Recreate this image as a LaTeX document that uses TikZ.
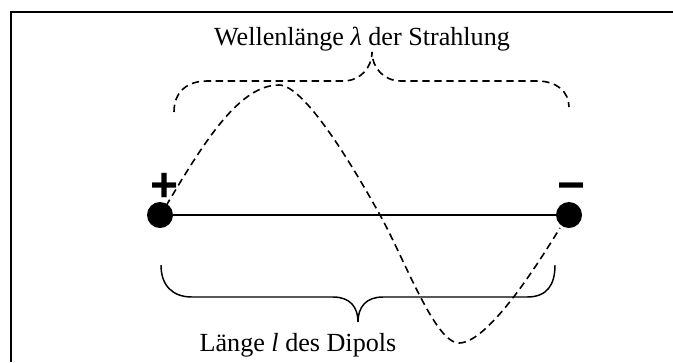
\documentclass[tikz,border=0pt]{standalone}
\usepackage{fontspec}
\setmainfont{Liberation Serif}
\newfontfamily\signfont{Liberation Sans}
\usetikzlibrary{positioning}

\begin{document}
\begin{tikzpicture}[x=0.75pt,y=-0.75pt,
  pole/.style={circle,fill=black,inner sep=0pt,minimum size=19.5pt},
  sign/.style={inner sep=0pt,anchor=base,font=\signfont\bfseries\fontsize{36}{36}\selectfont},
  label/.style={inner sep=0pt,anchor=base,font=\fontsize{19.6}{22}\selectfont},
  wave/.style={dash pattern=on 5.5pt off 3.5pt,line width=1.2pt},
  brace/.style={line width=1.1pt}
]
\useasboundingbox (0,0) rectangle (673,362);
% frame (open at right and bottom)
\draw[line width=1.6pt] (673,12) -- (11,12) -- (11,362);
% radiation wave
\draw[wave] (166,206) .. controls (205,140) and (240,85) .. (279,85)
  .. controls (305,85) and (355,170) .. (380,215)
  .. controls (405,260) and (435,343) .. (459,343)
  .. controls (490,343) and (545,252) .. (560,228);
% braces
\draw[wave] (174,112) .. controls (174,92) and (187,81) .. (207,81) -- (343,81)
  .. controls (360,81) and (372,68) .. (372,52)
  .. controls (372,68) and (384,81) .. (401,81) -- (537,81)
  .. controls (557,81) and (569,92) .. (569,107);
\draw[brace] (161,265) .. controls (161,285) and (172,297) .. (192,297) -- (333,297)
  .. controls (350,297) and (358,307) .. (358,322)
  .. controls (358,307) and (366,297) .. (383,297) -- (527,297)
  .. controls (547,297) and (555,285) .. (555,265);
% dipole
\node[pole] (pos) at (160,215) {};
\node[pole] (neg) at (569,215) {};
\draw[line width=1.1pt] (pos) -- (neg);
\node[sign] (plussign) at (165,201) {+};
\node[sign] (minussign) at (572,201) {−};
% labels
\node[label] (wavelabel) at (362,45) {Wellenlänge \textit{λ} der Strahlung};
\node[label] (lengthlabel) at (298,351) {Länge \textit{l} des Dipols};
\end{tikzpicture}
\end{document}
